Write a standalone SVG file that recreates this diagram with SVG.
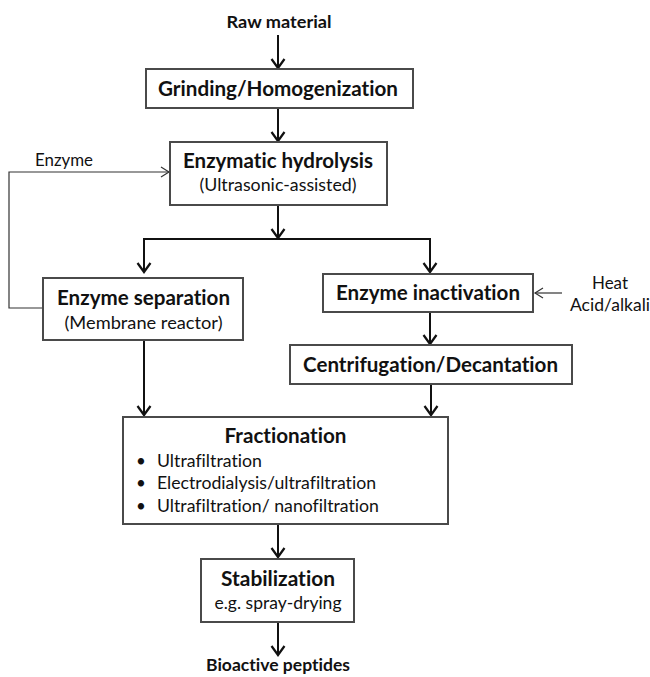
<svg xmlns="http://www.w3.org/2000/svg" width="650" height="677" viewBox="0 0 650 677">
  <style>
    .box { fill: #ffffff; stroke: #4a4a4a; stroke-width: 2; }
    .t { font-family: Lato, "Liberation Sans", sans-serif; fill: #111111; font-variant-ligatures: none; }
    .b { font-weight: bold; font-size: 20px; }
    .bs { font-weight: bold; font-size: 17px; }
    .r { font-size: 17px; }
    .mid { text-anchor: middle; }
    .main { fill: none; stroke: #111111; stroke-width: 2; }
    .thin { fill: none; stroke: #333333; stroke-width: 1.2; }
  </style>
  <defs>
    <marker id="ah" markerUnits="userSpaceOnUse" markerWidth="20" markerHeight="20" viewBox="-12 -10 14 20" refX="0" refY="0" orient="auto">
      <path d="M -9 -6.5 L 0 0 L -9 6.5" fill="none" stroke="#111111" stroke-width="2.2"/>
    </marker>
    <marker id="ahThin" markerUnits="userSpaceOnUse" markerWidth="20" markerHeight="20" viewBox="-12 -10 14 20" refX="0" refY="0" orient="auto">
      <path d="M -8 -5 L 0 0 L -8 5" fill="none" stroke="#333333" stroke-width="1.2"/>
    </marker>
  </defs>

  <g id="connectors">
    <path class="main" d="M278 35 V68" marker-end="url(#ah)"/>
    <path class="main" d="M278 108 V141" marker-end="url(#ah)"/>
    <path class="main" d="M278 205 V238" marker-end="url(#ah)"/>
    <path class="main" d="M278 239 H144 V272" marker-end="url(#ah)"/>
    <path class="main" d="M278 239 H430 V272" marker-end="url(#ah)"/>
    <path class="main" d="M144 340 V415" marker-end="url(#ah)"/>
    <path class="main" d="M430 312 V344" marker-end="url(#ah)"/>
    <path class="main" d="M431 385 V415" marker-end="url(#ah)"/>
    <path class="main" d="M278 525 V557" marker-end="url(#ah)"/>
    <path class="main" d="M278 622 V655" marker-end="url(#ah)"/>
    <path class="thin" d="M43 308 H9 V172 H169" marker-end="url(#ahThin)"/>
    <path class="thin" d="M562 293 H535" marker-end="url(#ahThin)"/>
  </g>

  <g id="raw-material">
    <text class="t bs mid" x="279" y="28" textLength="105" lengthAdjust="spacingAndGlyphs">Raw material</text>
  </g>

  <g id="grinding">
    <rect class="box" x="146" y="69" width="267" height="39"/>
    <text class="t b mid" x="278" y="96" textLength="240" lengthAdjust="spacingAndGlyphs">Grinding/Homogenization</text>
  </g>

  <g id="enzymatic-hydrolysis">
    <rect class="box" x="170" y="142" width="217" height="63"/>
    <text class="t b mid" x="278" y="168" textLength="190" lengthAdjust="spacingAndGlyphs">Enzymatic hydrolysis</text>
    <text class="t r mid" x="278" y="191" textLength="157" lengthAdjust="spacingAndGlyphs">(Ultrasonic-assisted)</text>
  </g>

  <g id="enzyme-label">
    <text class="t r" x="35" y="166" textLength="58" lengthAdjust="spacingAndGlyphs">Enzyme</text>
  </g>

  <g id="enzyme-separation">
    <rect class="box" x="43" y="278" width="200" height="62"/>
    <text class="t b mid" x="143.5" y="305" textLength="173" lengthAdjust="spacingAndGlyphs">Enzyme separation</text>
    <text class="t r mid" x="143.5" y="329" textLength="158" lengthAdjust="spacingAndGlyphs">(Membrane reactor)</text>
  </g>

  <g id="enzyme-inactivation">
    <rect class="box" x="323" y="274" width="210" height="38"/>
    <text class="t b mid" x="428" y="300" textLength="184" lengthAdjust="spacingAndGlyphs">Enzyme inactivation</text>
  </g>

  <g id="heat-acid">
    <text class="t r mid" x="610" y="289" textLength="36" lengthAdjust="spacingAndGlyphs">Heat</text>
    <text class="t r" x="570" y="311" textLength="80" lengthAdjust="spacingAndGlyphs">Acid/alkali</text>
  </g>

  <g id="centrifugation">
    <rect class="box" x="290" y="345" width="282" height="39"/>
    <text class="t b mid" x="430.5" y="372" textLength="255" lengthAdjust="spacingAndGlyphs">Centrifugation/Decantation</text>
  </g>

  <g id="fractionation">
    <rect class="box" x="123" y="417" width="325" height="107"/>
    <text class="t b mid" x="285.5" y="443" textLength="122" lengthAdjust="spacingAndGlyphs">Fractionation</text>
    <text class="t r" x="136" y="467">•</text>
    <text class="t r" x="157" y="467" textLength="105" lengthAdjust="spacingAndGlyphs">Ultrafiltration</text>
    <text class="t r" x="136" y="489">•</text>
    <text class="t r" x="157" y="489" textLength="219" lengthAdjust="spacingAndGlyphs">Electrodialysis/ultrafiltration</text>
    <text class="t r" x="136" y="512">•</text>
    <text class="t r" x="157" y="512" textLength="222" lengthAdjust="spacingAndGlyphs">Ultrafiltration/ nanofiltration</text>
  </g>

  <g id="stabilization">
    <rect class="box" x="201" y="559" width="153" height="63"/>
    <text class="t b mid" x="278" y="586" textLength="114" lengthAdjust="spacingAndGlyphs">Stabilization</text>
    <text class="t r mid" x="278" y="609" textLength="127" lengthAdjust="spacingAndGlyphs">e.g. spray-drying</text>
  </g>

  <g id="bioactive-peptides">
    <text class="t bs mid" x="278" y="671" textLength="144" lengthAdjust="spacingAndGlyphs">Bioactive peptides</text>
  </g>
</svg>
